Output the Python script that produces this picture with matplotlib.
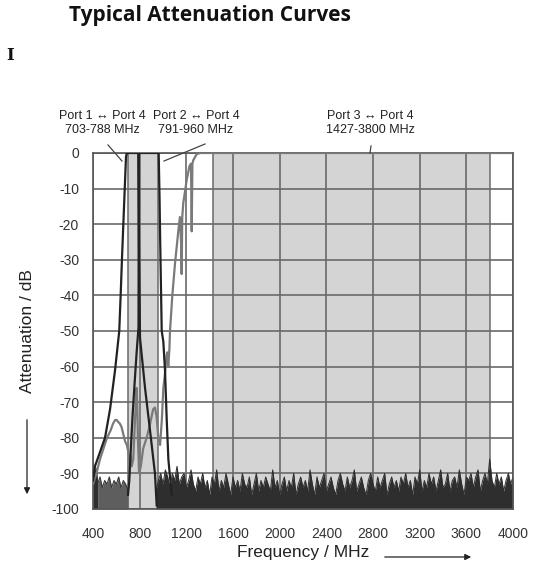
import numpy as np
import matplotlib
matplotlib.use("Agg")
import matplotlib.pyplot as plt

plt.rcParams["axes.unicode_minus"] = False

# ---------------- data ----------------
port1_f = [400, 417, 460, 503, 546, 589, 625, 637, 648, 660, 672, 683, 690, 788, 790, 795, 803, 846, 889, 931, 946]
port1_db = [-92, -88, -84, -80, -72, -61, -50, -40, -30, -20, -10, -1, 0, 0, -10, -30, -52, -66, -78, -90, -99]

port2_f = [700, 711, 723, 737, 754, 774, 790, 792, 793, 963, 970, 976, 989, 1003, 1017, 1032, 1046, 1060, 1075]
port2_db = [-96, -92, -84, -75, -66, -56, -49, -20, 0, 0, -12, -25, -50, -53, -61, -75, -86, -91, -96]

port3_f = [400, 430, 460, 490, 520, 550, 572, 590, 603, 615, 630, 645, 660, 675, 690, 703, 712, 720, 732,
           745, 760, 774, 780, 785, 795, 810, 830, 860, 890, 915, 931, 945, 960, 975, 990, 1003, 1017, 1030,
           1037, 1045, 1055, 1060, 1080, 1103, 1131, 1145, 1155, 1160, 1165, 1174, 1203, 1226, 1240, 1246,
           1252, 1260, 1289, 1320, 4000]
port3_db = [-93, -90, -86, -83, -80, -78, -76, -75, -75, -75.5, -76, -77, -79, -81, -82, -84, -87, -85, -88,
            -86, -75, -66, -72, -80, -90, -88, -83, -80, -76, -72, -71.5, -74, -80, -82, -75, -66, -62, -57,
            -56, -60, -55, -50, -40, -31, -22, -18, -25, -34, -18, -14, -7.6, -3.8, -3, -22,
            -3, -2, -0.3, 0, 0]

# noise floor
noise_lo_dark_f = [400, 410, 420, 430, 440]
noise_lo_dark_db = [-90, -87, -89, -88, -92]
noise_lo_gray_f = [440, 460, 480, 500, 520, 540, 560, 580, 600, 620, 640, 660, 680, 700]
noise_lo_gray_db = [-93, -91, -94, -92, -93, -91, -94, -92, -93, -91, -94, -92, -93, -95]

noise_hi_f = list(range(940, 4001, 20))
noise_hi_mag = [95, 92, 90, 93, 89, 91, 94, 90, 92, 88, 93, 91, 90, 94, 92, 89, 93, 95, 91,
                93, 90, 94, 92, 96, 91, 93, 89, 95, 92, 94, 90, 93, 96, 91, 94, 92, 95, 90, 93, 94, 91, 96, 93, 90, 95, 92, 94, 91, 93, 95, 89, 94, 92, 96,
                93, 91, 95, 92, 94, 90, 96, 93, 91, 94, 92, 95, 89, 93, 96, 91, 94, 92, 90, 95, 93, 91, 94, 96, 92, 90, 93, 95, 91, 94, 92, 89, 95, 93, 91, 94, 96, 92, 90, 93, 95, 91, 94, 92, 90, 96, 93, 91, 94, 92,
                95, 91, 93, 90, 94, 92, 96, 91, 93, 89, 95, 92, 94, 90, 93, 91, 95, 92, 89, 94, 93, 90, 95, 92, 91, 94, 89, 93, 96, 91, 92, 90, 94, 91, 89, 95, 92, 90, 93, 86, 92, 94, 90, 93, 91, 95, 92, 90, 93, 91]
noise_hi_db = [-v for v in noise_hi_mag]

bands = [(703, 960), (1427, 3800)]
x_ticks = [400, 800, 1200, 1600, 2000, 2400, 2800, 3200, 3600, 4000]
y_ticks = [0, -10, -20, -30, -40, -50, -60, -70, -80, -90, -100]
band_labels = [("Port 1 \u2194 Port 4\n703-788 MHz", 102),
               ("Port 2 \u2194 Port 4\n791-960 MHz", 196),
               ("Port 3 \u2194 Port 4\n1427-3800 MHz", 370)]

# ---------------- figure ----------------
W, H = 543, 572
fig = plt.figure(figsize=(W / 100, H / 100), dpi=100)
ax = fig.add_axes([93 / W, 1 - 509 / H, 420 / W, 356 / H])

grid_c = "#6a6a6a"
for a, b in bands:
    ax.axvspan(a, b, facecolor="#d4d4d4", edgecolor=grid_c, lw=1.1, zorder=0)

ax.set_xlim(400, 4000)
ax.set_ylim(-100, 0)
ax.set_xticks(x_ticks)
ax.set_yticks(y_ticks)
ax.grid(True, color=grid_c, lw=1.2, zorder=1)
ax.set_axisbelow(True)
ax.tick_params(length=0, labelsize=10, labelcolor="#333333")
ax.tick_params(axis="x", pad=13)
ax.tick_params(axis="y", pad=10)
for lab in ax.get_xticklabels() + ax.get_yticklabels():
    lab.set_family(["Liberation Sans", "DejaVu Sans"])
for s in ax.spines.values():
    s.set_color("#555555")
    s.set_linewidth(1.2)

# noise floor
ax.fill_between(noise_lo_gray_f, noise_lo_gray_db, -100, color="#5e5e5e", lw=0, zorder=2)
ax.plot(noise_lo_gray_f, noise_lo_gray_db, color="#3a3a3a", lw=0.8, zorder=2)
ax.fill_between(noise_lo_dark_f, noise_lo_dark_db, -100, color="#2e2e2e", lw=0, zorder=2)
ax.fill_between(noise_hi_f, noise_hi_db, -100, color="#2e2e2e", lw=0, zorder=2)
ax.plot(noise_hi_f, noise_hi_db, color="#2e2e2e", lw=0.7, zorder=2)

# curves
ax.plot(port3_f, port3_db, color="#7a7a7a", lw=1.6, zorder=3)
ax.plot(port1_f, port1_db, color="#222222", lw=1.6, zorder=4)
ax.plot(port2_f, port2_db, color="#222222", lw=1.6, zorder=4)

def fx(x):
    return x / W

def fy(y):
    return 1 - y / H

for txt, cx in band_labels:
    fig.text(fx(cx), fy(123), txt, ha="center", va="center", fontsize=9, linespacing=1.25,
             family=["Liberation Sans", "DejaVu Sans"], color="#222222")

leaders = [((108, 145), (122, 161)), ((205, 144), (164, 161)), ((371, 146), (370, 153))]
for (x0, y0), (x1, y1) in leaders:
    fig.add_artist(plt.Line2D([fx(x0), fx(x1)], [fy(y0), fy(y1)], color="#444444", lw=0.9))

fig.text(fx(303), fy(553), "Frequency / MHz", ha="center", va="center", fontsize=12.5,
         family=["Liberation Sans", "DejaVu Sans"], color="#222222")
fig.add_artist(matplotlib.patches.FancyArrowPatch((fx(382), fy(557)), (fx(474), fy(557)),
               transform=fig.transFigure, arrowstyle="-|>", mutation_scale=9, lw=0.9, color="#222222"))
fig.text(fx(28), fy(331), "Attenuation / dB", ha="center", va="center", rotation=90, fontsize=12.5,
         family=["Liberation Sans", "DejaVu Sans"], color="#222222")
fig.add_artist(matplotlib.patches.FancyArrowPatch((fx(27), fy(417)), (fx(27), fy(497)),
               transform=fig.transFigure, arrowstyle="-|>", mutation_scale=9, lw=0.9, color="#222222"))

fig.text(fx(210), fy(16), "Typical Attenuation Curves", ha="center", va="center", fontsize=15,
         fontweight="bold", family=["Open Sans", "DejaVu Sans"], color="#111111")
fig.text(fx(10), fy(55), "I", ha="center", va="center", fontsize=12, fontweight="bold",
         family=["DejaVu Serif"], color="#111111")

fig.savefig("out.png", dpi=100)
